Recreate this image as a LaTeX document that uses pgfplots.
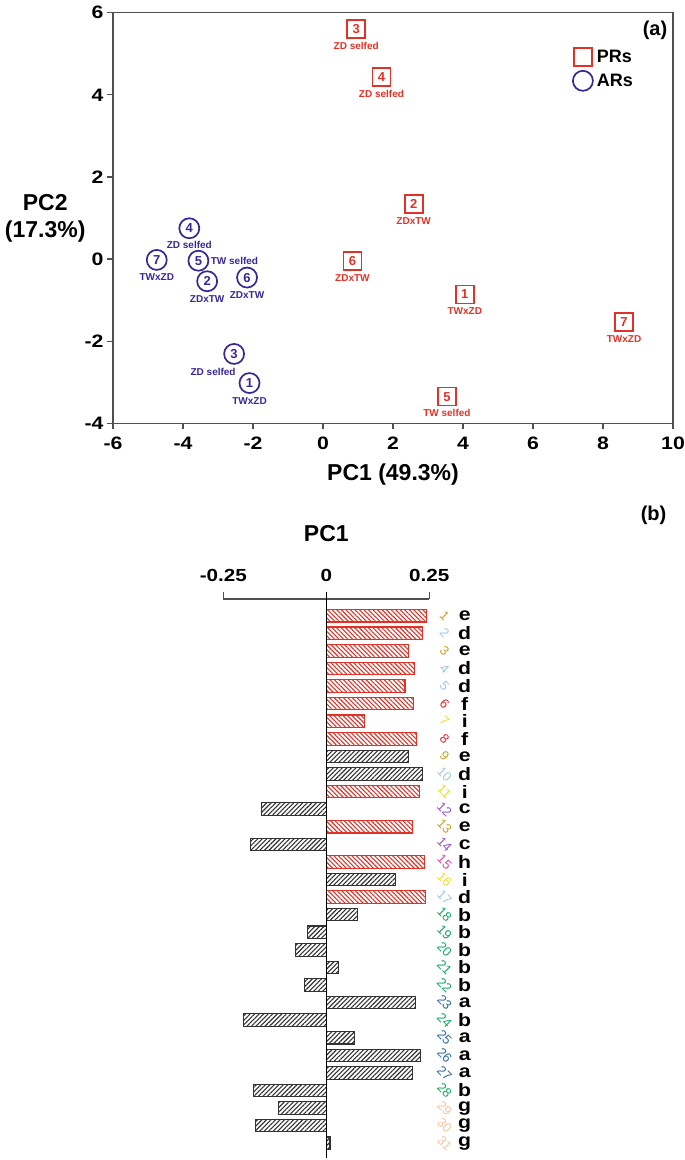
\documentclass[border=0pt]{standalone}
\usepackage{fontspec}
\setmainfont{Liberation Sans}
\newfontfamily\widefont{Liberation Sans}[FakeStretch=1.18]
\usepackage{pgfplots}
\usepackage{pgfplotstable}
\pgfplotsset{compat=1.18}
\usetikzlibrary{patterns.meta}

\definecolor{prred}{RGB}{225,50,40}
\definecolor{arblue}{RGB}{55,40,150}
\definecolor{axgray}{RGB}{80,80,80}
\definecolor{barblk}{RGB}{50,50,50}
\definecolor{cgold}{RGB}{200,160,40}
\definecolor{cltblue}{RGB}{160,198,234}
\definecolor{cred}{RGB}{225,35,40}
\definecolor{cyel}{RGB}{243,218,50}
\definecolor{cpurp}{RGB}{150,80,200}
\definecolor{cpink}{RGB}{230,70,155}
\definecolor{cgreen}{RGB}{20,168,98}
\definecolor{cteal}{RGB}{45,110,155}
\definecolor{cpeach}{RGB}{246,196,162}

\pgfplotsset{
  legimg/.style={legend image code/.code={\draw[##1] plot coordinates {(10pt,0pt)};}},
  rownum/.style={draw=none, mark=none, point meta=explicit symbolic,
    nodes near coords, nodes near coords align=center,
    every node near coord/.append style={text=#1, rotate=-45, inner sep=0pt,
      font=\fontsize{13}{13}\selectfont}},
}

% PCA scores: x y number, label position lx ly, label
\pgfplotstableread{
x y n lx ly name
4.05 -0.86 1 4.05 -1.274 TWxZD
2.59 1.34 2 2.59 0.926 ZDxTW
0.95 5.60 3 0.95 5.186 {ZD selfed}
1.67 4.44 4 1.67 4.026 {ZD selfed}
3.54 -3.35 5 3.54 -3.740 {TW selfed}
0.84 -0.04 6 0.84 -0.454 ZDxTW
8.60 -1.53 7 8.60 -1.944 TWxZD
}\prdata

\pgfplotstableread{
x y n lx ly name
-2.10 -3.02 1 -2.10 -3.446 TWxZD
-3.31 -0.54 2 -3.31 -0.978 ZDxTW
-2.54 -2.31 3 -3.14 -2.740 {ZD selfed}
-3.82 0.75 4 -3.82 0.336 {ZD selfed}
-3.56 -0.04 5 -2.53 -0.040 {TW selfed}
-2.17 -0.45 6 -2.17 -0.876 ZDxTW
-4.75 -0.02 7 -4.75 -0.450 TWxZD
}\ardata

% PC1 loadings (p = row position)
\pgfplotstableread{
p v
-1 0.243
-2 0.234
-3 0.200
-4 0.214
-5 0.191
-6 0.212
-7 0.092
-8 0.218
-11 0.226
-13 0.210
-15 0.239
-17 0.240
}\redbars

\pgfplotstableread{
p v
-9 0.199
-10 0.234
-12 -0.157
-14 -0.185
-16 0.167
-18 0.075
-19 -0.046
-20 -0.075
-21 0.029
-22 -0.052
-23 0.216
-24 -0.200
-25 0.068
-26 0.228
-27 0.209
-28 -0.177
-29 -0.117
-30 -0.172
-31 0.009
}\blackbars

\pgfplotstableread{
p l xl
-1 e 0.336
-2 d 0.336
-3 e 0.336
-4 d 0.336
-5 d 0.336
-6 f 0.336
-7 i 0.336
-8 f 0.336
-9 e 0.336
-10 d 0.336
-11 i 0.336
-12 c 0.336
-13 e 0.336
-14 c 0.336
-15 h 0.336
-16 i 0.336
-17 d 0.336
-18 b 0.336
-19 b 0.336
-20 b 0.336
-21 b 0.336
-22 b 0.336
-23 a 0.336
-24 b 0.336
-25 a 0.336
-26 a 0.336
-27 a 0.336
-28 b 0.336
-29 g 0.336
-30 g 0.336
-31 g 0.336
}\rowletters

\begin{document}
\begin{tikzpicture}
\useasboundingbox (0,0) rectangle (685pt,-1160pt);

% (a) score plot
\begin{axis}[
    at={(113pt,-423.3pt)}, anchor=south west,
    scale only axis, width=560pt, height=410.6pt,
    xmin=-6, xmax=10, ymin=-4, ymax=6,
    xtick={-6,-4,-2,0,2,4,6,8,10},
    xticklabels={-6,-4,-2,0,2,4,6,8,10},
    ytick={-4,-2,0,2,4,6},
    yticklabels={-4,-2,0,2,4,6},
    tick align=outside, xtick pos=bottom, ytick pos=left,
    major tick length=6pt,
    axis line style={line width=1.2pt, draw=axgray},
    tick style={line width=1.2pt, draw=axgray},
    ticklabel style={font=\widefont\bfseries\fontsize{18}{18}\selectfont},
    xticklabel style={yshift=-4pt},
    xlabel={PC1 (49.3\%)}, ylabel={PC2\\(17.3\%)},
    label style={font=\bfseries\fontsize{23}{27}\selectfont},
    xlabel style={at={(axis description cs:0.5,-0.126)}, anchor=center},
    ylabel style={at={(axis description cs:-0.121,0.5)}, anchor=center, rotate=-90, align=center},
    clip=false,
    legend style={at={(rel axis cs:0.8209,0.915)}, anchor=north west,
        draw=none, fill=none, inner sep=0pt, row sep=5pt,
        font=\bfseries\fontsize{18}{18}\selectfont,
        nodes={inner sep=1pt},
        /tikz/every odd column/.append style={column sep=3pt}},
    legend cell align=left,
]
\addplot[only marks, mark=square, mark size=9pt, color=prred,
    mark options={line width=1.7pt, draw=prred, fill=white}, legimg,
    point meta=explicit symbolic, nodes near coords, nodes near coords align=center,
    every node near coord/.append style={font=\bfseries\fontsize{13}{13}\selectfont, text=prred}]
    table[x=x, y=y, meta=n]{\prdata};
\addlegendentry{PRs}
\addplot[only marks, mark=o, mark size=10pt, color=arblue,
    mark options={line width=1.7pt, draw=arblue, fill=white}, legimg,
    point meta=explicit symbolic, nodes near coords, nodes near coords align=center,
    every node near coord/.append style={font=\bfseries\fontsize{13}{13}\selectfont, text=arblue}]
    table[x=x, y=y, meta=n]{\ardata};
\addlegendentry{ARs}

\addplot[draw=none, mark=none, forget plot,
    point meta=explicit symbolic, nodes near coords, nodes near coords align=center,
    every node near coord/.append style={font=\bfseries\fontsize{10}{10}\selectfont, text=prred}]
    table[x=lx, y=ly, meta=name]{\prdata};
\addplot[draw=none, mark=none, forget plot,
    point meta=explicit symbolic, nodes near coords, nodes near coords align=center,
    every node near coord/.append style={font=\bfseries\fontsize{10}{10}\selectfont, text=arblue}]
    table[x=lx, y=ly, meta=name]{\ardata};

\node[anchor=north east, font=\bfseries\fontsize{20}{20}\selectfont] at (rel axis cs:0.996,0.988) {(a)};
\end{axis}

% (b) PC1 loadings
\begin{axis}[
    at={(223.3pt,-599pt)}, anchor=north west,
    scale only axis, width=206pt, height=559pt,
    xmin=-0.25, xmax=0.25, ymin=-31.84, ymax=-0.05,
    axis x line=top, axis y line=none,
    axis line style={-, line width=1.2pt, draw=axgray},
    xtick={-0.25,0,0.25}, xticklabels={-0.25,0,0.25},
    tick align=outside, major tick length=7.5pt,
    tick style={line width=1.2pt, draw=axgray},
    ticklabel style={font=\widefont\bfseries\fontsize{17.5}{17.5}\selectfont},
    xticklabel style={yshift=6pt},
    title={PC1},
    title style={at={(axis description cs:0.5,1.1055)}, anchor=center, font=\bfseries\fontsize{23}{23}\selectfont},
    clip=false,
]
\addplot[xbar, bar width=12.5pt, bar shift=0pt, draw=prred, line width=1.1pt,
    pattern={Lines[angle=-45, distance=3.2pt, line width=1.1pt]}, pattern color=prred]
    table[x=v, y=p]{\redbars};
\addplot[xbar, bar width=12.5pt, bar shift=0pt, draw=barblk, line width=1.1pt,
    pattern={Lines[angle=45, distance=3.2pt, line width=1.1pt]}, pattern color=barblk]
    table[x=v, y=p]{\blackbars};

\draw[line width=1pt, black] (axis cs:0,0.365) -- (axis cs:0,-31.84);

% row numbers, coloured by group
\addplot[rownum=cgold] coordinates {(0.287,-1) [1] (0.287,-3) [3] (0.287,-9) [9] (0.287,-13) [13]};
\addplot[rownum=cltblue] coordinates {(0.287,-2) [2] (0.287,-4) [4] (0.287,-5) [5] (0.287,-10) [10] (0.287,-17) [17]};
\addplot[rownum=cred] coordinates {(0.287,-6) [6] (0.287,-8) [8]};
\addplot[rownum=cyel] coordinates {(0.287,-7) [7] (0.287,-11) [11] (0.287,-16) [16]};
\addplot[rownum=cpurp] coordinates {(0.287,-12) [12] (0.287,-14) [14]};
\addplot[rownum=cpink] coordinates {(0.287,-15) [15]};
\addplot[rownum=cgreen] coordinates {(0.287,-18) [18] (0.287,-19) [19] (0.287,-20) [20] (0.287,-21) [21] (0.287,-22) [22] (0.287,-24) [24] (0.287,-28) [28]};
\addplot[rownum=cteal] coordinates {(0.287,-23) [23] (0.287,-25) [25] (0.287,-26) [26] (0.287,-27) [27]};
\addplot[rownum=cpeach] coordinates {(0.287,-29) [29] (0.287,-30) [30] (0.287,-31) [31]};

\addplot[draw=none, mark=none,
    point meta=explicit symbolic, nodes near coords, nodes near coords align=center,
    every node near coord/.append style={text=black, inner sep=0pt, font=\widefont\bfseries\fontsize{18}{18}\selectfont}]
    table[x=xl, y=p, meta=l]{\rowletters};

\node[anchor=east, font=\bfseries\fontsize{20}{20}\selectfont] at (axis description cs:2.168,1.150) {(b)};
\end{axis}
\end{tikzpicture}
\end{document}
